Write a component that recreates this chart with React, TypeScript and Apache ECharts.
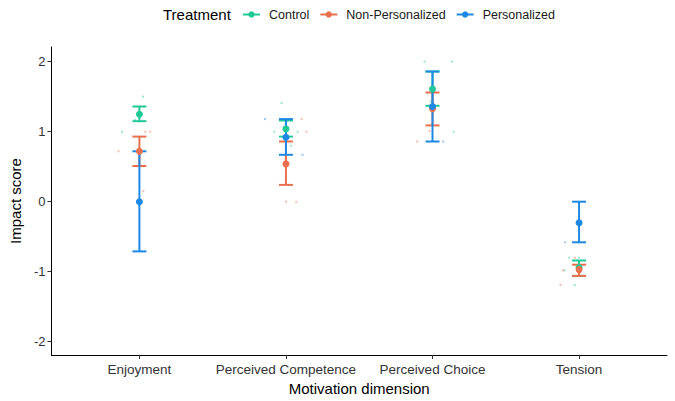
import React, { useEffect, useRef } from "react";
import * as echarts from "echarts";

const dimensions = ["Enjoyment", "Perceived Competence", "Perceived Choice", "Tension"];
const treatments = ["Control", "Non-Personalized", "Personalized"];
const colors = ["#22C998", "#E8704F", "#1E88E5"];
const yTicks = [-2, -1, 0, 1, 2];

// means per dimension
const controlMean = [1.25, 1.04, 1.61, -0.94];
const nonPersMean = [0.72, 0.54, 1.33, -0.97];
const persMean = [0.0, 0.92, 1.36, -0.3];

// error bar bounds per dimension
const controlLow = [1.15, 0.93, 1.37, -1.06];
const controlHigh = [1.36, 1.16, 1.86, -0.84];
const nonPersLow = [0.51, 0.24, 1.09, -1.06];
const nonPersHigh = [0.93, 0.86, 1.56, -0.9];
const persLow = [-0.71, 0.67, 0.86, -0.58];
const persHigh = [0.72, 1.18, 1.86, 0.0];

// raw (jittered) observations: [dimension index, jitter offset, value]
const controlRaw = [
  [0, 0.025, 1.5], [0, -0.118, 1.0], [0, -0.03, 1.17],
  [1, -0.03, 1.41], [1, -0.08, 1.0], [1, 0.08, 1.0], [1, 0.035, 0.8],
  [2, -0.054, 2.0], [2, 0.134, 2.0], [2, -0.014, 1.43], [2, 0.145, 1.0],
  [3, -0.068, -0.8], [3, 0.0, -0.8], [3, -0.03, -1.19], [3, -0.1, -0.98],
];
const nonPersRaw = [
  [0, 0.04, 1.0], [0, 0.073, 1.0], [0, -0.143, 0.72], [0, 0.027, 0.15],
  [1, 0.107, 1.18], [1, 0.14, 1.0], [1, 0.0, 0.0], [1, 0.07, 0.0],
  [2, -0.02, 1.01], [2, -0.104, 0.86],
  [3, -0.03, -0.8], [3, -0.127, -1.19], [3, -0.11, -0.98],
];
const persRaw = [
  [1, -0.143, 1.18], [1, 0.113, 0.67],
  [2, 0.073, 0.86],
  [3, -0.095, -0.58],
];

const means = [controlMean, nonPersMean, persMean];
const lows = [controlLow, nonPersLow, persLow];
const highs = [controlHigh, nonPersHigh, persHigh];
const raws = [controlRaw, nonPersRaw, persRaw];

const FONT = "'Liberation Sans', Arial, sans-serif";

export default function App() {
  const ref = useRef<HTMLDivElement>(null);
  useEffect(() => {
    if (!ref.current) return;
    document.body.style.margin = "0";
    const chart = echarts.init(ref.current, null, { renderer: "svg" });
    const series: any[] = [];
    // dummy line series for legend icons
    treatments.forEach((t, i) => {
      series.push({
        type: "line",
        name: t,
        data: [],
        symbol: "circle",
        itemStyle: { color: colors[i] },
        lineStyle: { color: colors[i], width: 2 },
      });
    });
    // jitter points
    treatments.forEach((t, i) => {
      series.push({
        type: "scatter",
        name: t,
        data: raws[i].map((r) => [r[0] + r[1], r[2]]),
        symbol: "rect",
        symbolSize: 2,
        itemStyle: { color: colors[i], opacity: 0.45 },
        silent: true,
        z: 1,
      });
    });
    // error bars
    treatments.forEach((t, i) => {
      series.push({
        type: "custom",
        name: t,
        data: dimensions.map((_, d) => [d, lows[i][d], highs[i][d]]),
        z: 2,
        renderItem: (params: any, api: any) => {
          const x = api.value(0);
          const lo = api.coord([x, api.value(1)]);
          const hi = api.coord([x, api.value(2)]);
          const half = 7;
          const style = { stroke: colors[i], lineWidth: 2 };
          return {
            type: "group",
            children: [
              { type: "line", shape: { x1: lo[0], y1: lo[1], x2: hi[0], y2: hi[1] }, style },
              { type: "line", shape: { x1: lo[0] - half, y1: lo[1], x2: lo[0] + half, y2: lo[1] }, style },
              { type: "line", shape: { x1: hi[0] - half, y1: hi[1], x2: hi[0] + half, y2: hi[1] }, style },
            ],
          };
        },
      });
    });
    // means
    treatments.forEach((t, i) => {
      series.push({
        type: "scatter",
        name: t,
        data: dimensions.map((_, d) => [d, means[i][d]]),
        symbol: "circle",
        symbolSize: 7,
        itemStyle: { color: colors[i], opacity: 1 },
        z: 3,
      });
    });

    chart.setOption({
      animation: false,
      backgroundColor: "#ffffff",
      textStyle: { fontFamily: FONT },
      grid: { left: 50, right: 8, top: 47, bottom: 46, containLabel: false },
      legend: {
        data: treatments,
        left: 242,
        top: 8,
        padding: 0,
        itemWidth: 17,
        itemHeight: 8,
        itemGap: 10,
        textStyle: { fontSize: 12.5, color: "#1a1a1a", fontFamily: FONT, padding: [0, 0, 0, 4] },
      },
      graphic: [
        {
          type: "text",
          left: 163,
          top: 7,
          style: { text: "Treatment", fontSize: 15, fill: "#000", fontFamily: FONT },
        },
      ],
      xAxis: {
        type: "value",
        min: -0.6,
        max: 3.6,
        name: "Motivation dimension",
        nameLocation: "middle",
        nameGap: 26,
        nameTextStyle: { fontSize: 15, color: "#000", fontFamily: FONT },
        splitLine: { show: false },
        axisLine: { show: true, onZero: false, lineStyle: { color: "#000", width: 1 } },
        axisTick: { show: true, length: 4, customValues: [0, 1, 2, 3], lineStyle: { color: "#333" } },
        axisLabel: {
          customValues: [0, 1, 2, 3],
          formatter: (v: number) => dimensions[Math.round(v)] ?? "",
          fontSize: 13.5,
          color: "#333",
          margin: 7,
          fontFamily: FONT,
        },
      },
      yAxis: {
        type: "value",
        min: -2.19,
        max: 2.21,
        name: "Impact score",
        nameLocation: "middle",
        nameGap: 25,
        nameTextStyle: { fontSize: 15, color: "#000", fontFamily: FONT },
        splitLine: { show: false },
        axisLine: { show: true, onZero: false, lineStyle: { color: "#000", width: 1 } },
        axisTick: { show: true, length: 4, customValues: yTicks, lineStyle: { color: "#333" } },
        axisLabel: {
          customValues: yTicks,
          fontSize: 13,
          color: "#333",
          margin: 6,
          fontFamily: FONT,
        },
      },
      series,
    });
    return () => chart.dispose();
  }, []);
  return <div ref={ref} style={{ width: 675, height: 401 }} />;
}
